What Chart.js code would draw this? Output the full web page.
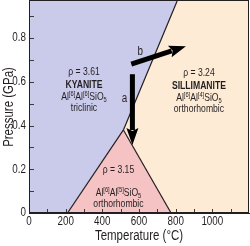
<!DOCTYPE html>
<html>
<head>
<meta charset="utf-8">
<script src="https://cdn.jsdelivr.net/npm/chart.js@4/dist/chart.umd.min.js"></script>
<style>
html,body{margin:0;padding:0;background:#fff;}
#c{display:block;width:250px;height:246px;}
</style>
</head>
<body>
<canvas id="c" width="250" height="246"></canvas>
<script>
// ---- data ----
const tempRange = [0, 1200];            // °C
const pressRange = [0, 0.97];           // GPa
const tempLabels = [0, 200, 400, 600, 800, 1000];
const pressLabels = [0, 0.2, 0.4, 0.6, 0.8];
const triplePoint = [515, 0.38];
const kyAndBoundary = [[210, 0], triplePoint];
const andSilBoundary = [triplePoint, [775, 0]];
const kySilBoundary = [triplePoint, [808, 0.97]];
const arrowA = [[564, 0.635], [564, 0.311]];
const arrowB = [[558, 0.681], [856, 0.763]];
const arrowNames = ['a', 'b'];
const mineralNames = ['KYANITE', 'SILLIMANITE', ''];
const densities = ['ρ = 3.61', 'ρ = 3.24', 'ρ = 3.15'];
const coordination = [['6', '6'], ['6', '4'], ['6', '5']];
const systems = ['triclinic', 'orthorhombic', 'orthorhombic'];
const axisTitles = ['Temperature (°C)', 'Pressure (GPa)'];

// ---- fonts ----
function hasFont(name) {
  const c = document.createElement('canvas').getContext('2d');
  const s = 'Temperature (GPa) 0123';
  c.font = '14px monospace'; const a = c.measureText(s).width;
  c.font = '14px "' + name + '", monospace'; const b = c.measureText(s).width;
  return Math.abs(a - b) > 0.5;
}
let FAM = 'Liberation Sans';
let SQX = 0.82;
if (hasFont('Liberation Sans Narrow')) { FAM = 'Liberation Sans Narrow'; SQX = 1; }
const INK = '#231f20';

const pts = arr => arr.map(p => ({x: p[0], y: p[1]}));

function txt(ctx, s, x, y, size, bold, align, rot) {
  ctx.save();
  ctx.font = (bold ? 'bold ' : '') + size + 'px "' + FAM + '"';
  ctx.textAlign = align || 'center'; ctx.textBaseline = 'middle';
  ctx.translate(x, y);
  if (rot) ctx.rotate(rot);
  ctx.scale(SQX, 1);
  ctx.fillText(s, 0, 0);
  ctx.restore();
}

// ---- plugins ----
const axesDecor = {
  id: 'axesDecor',
  afterDatasetsDraw(chart) {
    const {ctx, chartArea: a, scales: {x, y}} = chart;
    ctx.save();
    ctx.strokeStyle = '#3a3a3a'; ctx.lineWidth = 1;
    ctx.beginPath();
    x.ticks.forEach(t => {
      if (t.value <= tempRange[0] || t.value >= tempRange[1]) return;
      const px = Math.round(x.getPixelForValue(t.value)) + 0.5;
      ctx.moveTo(px, a.bottom); ctx.lineTo(px, a.bottom - 4);
    });
    y.ticks.forEach(t => {
      const k = t.value * 10;
      if (Math.abs(k - Math.round(k)) > 1e-6) return;
      if (t.value <= pressRange[0] || t.value >= pressRange[1]) return;
      const py = Math.round(y.getPixelForValue(t.value)) + 0.5;
      ctx.moveTo(a.left, py); ctx.lineTo(a.left + 5, py);
    });
    ctx.stroke();
    // frame
    ctx.strokeStyle = INK;
    ctx.strokeRect(a.left + 0.5, a.top - 0.5, a.right - a.left - 1, a.bottom - a.top);
    // tick labels from the scales
    ctx.fillStyle = INK;
    x.ticks.forEach(t => {
      if (!tempLabels.some(v => v === t.value)) return;
      txt(ctx, String(t.value), x.getPixelForValue(t.value), a.bottom + 9, 12, false);
    });
    y.ticks.forEach(t => {
      const m = pressLabels.find(p => Math.abs(p - t.value) < 1e-6);
      if (m === undefined) return;
      txt(ctx, String(m), a.left - 3, y.getPixelForValue(t.value), 12, false, 'right');
    });
    // axis titles
    txt(ctx, axisTitles[0], (a.left + a.right) / 2, a.bottom + 23, 14, false);
    txt(ctx, axisTitles[1], 9, (a.top + a.bottom) / 2, 14, false, 'center', -Math.PI / 2);
    ctx.restore();
  }
};

function drawArrow(ctx, x0, y0, x1, y1, w, hl, hw) {
  const ang = Math.atan2(y1 - y0, x1 - x0);
  const bx = x1 - hl * Math.cos(ang), by = y1 - hl * Math.sin(ang);
  ctx.save();
  ctx.strokeStyle = '#000'; ctx.fillStyle = '#000';
  ctx.lineWidth = w; ctx.lineCap = 'butt';
  ctx.beginPath(); ctx.moveTo(x0, y0); ctx.lineTo(bx + Math.cos(ang) * 2, by + Math.sin(ang) * 2); ctx.stroke();
  const nx = -Math.sin(ang), ny = Math.cos(ang);
  ctx.beginPath();
  ctx.moveTo(x1, y1);
  ctx.lineTo(bx + nx * hw / 2, by + ny * hw / 2);
  ctx.lineTo(bx + Math.cos(ang) * 3, by + Math.sin(ang) * 3);
  ctx.lineTo(bx - nx * hw / 2, by - ny * hw / 2);
  ctx.closePath(); ctx.fill();
  ctx.restore();
}

function formula(ctx, co, cx, cy) {
  const parts = [['Al', 0], ['[' + co[0] + ']', 1], ['Al', 0], ['[' + co[1] + ']', 1], ['SiO', 0], ['5', -1]];
  const big = 10.5, small = 7;
  ctx.save();
  ctx.textBaseline = 'alphabetic'; ctx.textAlign = 'left';
  let w = 0;
  const ws = parts.map(p => { ctx.font = (p[1] ? small : big) + 'px "' + FAM + '"'; const m = ctx.measureText(p[0]).width * SQX; w += m; return m; });
  let x = cx - w / 2;
  const base = cy + 3.5;
  parts.forEach((p, i) => {
    ctx.font = (p[1] ? small : big) + 'px "' + FAM + '"';
    const yy = p[1] === 1 ? base - 4 : (p[1] === -1 ? base + 2 : base);
    ctx.save(); ctx.translate(x, yy); ctx.scale(SQX, 1); ctx.fillText(p[0], 0, 0); ctx.restore();
    x += ws[i];
  });
  ctx.restore();
}

const annotations = {
  id: 'annotations',
  afterDatasetsDraw(chart) {
    const {ctx, scales: {x, y}} = chart;
    const P = p => [x.getPixelForValue(p[0]), y.getPixelForValue(p[1])];
    let a0 = P(arrowA[0]), a1 = P(arrowA[1]);
    drawArrow(ctx, a0[0], a0[1], a1[0], a1[1], 5, 17, 12);
    let b0 = P(arrowB[0]), b1 = P(arrowB[1]);
    drawArrow(ctx, b0[0], b0[1], b1[0], b1[1], 5, 17, 12);
    ctx.save(); ctx.fillStyle = INK;
    txt(ctx, arrowNames[0], a0[0] - 8, a0[1] + 24, 12, false);
    txt(ctx, arrowNames[1], b0[0] + 9, b0[1] - 12, 12, false);
    const anchors = [[300, 0.644], [927, 0.64], [488, 0.197]];
    const rows = [[0, 12.5, 24.5, 35.5], [0, 12.5, 24.5, 35.5], [0, 0, 23, 34]];
    for (let i = 0; i < 3; i++) {
      const [cx, cy] = P(anchors[i]);
      const r = rows[i];
      txt(ctx, densities[i], cx, cy + r[0], 10.5, false);
      if (mineralNames[i]) txt(ctx, mineralNames[i], cx, cy + r[1], 10.5, true);
      formula(ctx, coordination[i], cx, cy + r[2]);
      txt(ctx, systems[i], cx, cy + r[3], 10.5, false);
    }
    ctx.restore();
  }
};

const lineDs = (arr) => ({data: pts(arr), borderColor: INK, borderWidth: 1.2, pointRadius: 0, fill: false, tension: 0});

new Chart(document.getElementById('c'), {
  type: 'line',
  data: {
    datasets: [
      lineDs(kyAndBoundary),
      lineDs(andSilBoundary),
      lineDs(kySilBoundary),
      {data: pts([kyAndBoundary[0], triplePoint, andSilBoundary[1]]), fill: 'origin',
       backgroundColor: '#f5c3c4', borderWidth: 0, pointRadius: 0, tension: 0},
      {data: pts([[tempRange[0], pressRange[0]], kyAndBoundary[0], triplePoint, kySilBoundary[1]]), fill: 'end',
       backgroundColor: '#cacaea', borderWidth: 0, pointRadius: 0, tension: 0},
      {data: pts([[tempRange[0], pressRange[1]], [tempRange[1], pressRange[1]]]), fill: 'origin',
       backgroundColor: '#fdebd6', borderWidth: 0, pointRadius: 0, tension: 0}
    ]
  },
  options: {
    responsive: false, animation: false, devicePixelRatio: 1,
    layout: {padding: {top: 1, right: 1, left: 0, bottom: 0}},
    plugins: {legend: {display: false}, tooltip: {enabled: false}},
    scales: {
      x: {
        type: 'linear', min: tempRange[0], max: tempRange[1],
        grid: {display: false, drawTicks: false},
        border: {display: true, color: INK, width: 1},
        ticks: {stepSize: 100, display: false, autoSkip: false},
        afterFit: s => { s.height = 33; }
      },
      y: {
        type: 'linear', min: pressRange[0], max: pressRange[1],
        grid: {display: false, drawTicks: false},
        border: {display: true, color: INK, width: 1},
        ticks: {stepSize: 0.1, display: false, autoSkip: false},
        afterFit: s => { s.width = 29; }
      }
    }
  },
  plugins: [axesDecor, annotations]
});
</script>
</body>
</html>
